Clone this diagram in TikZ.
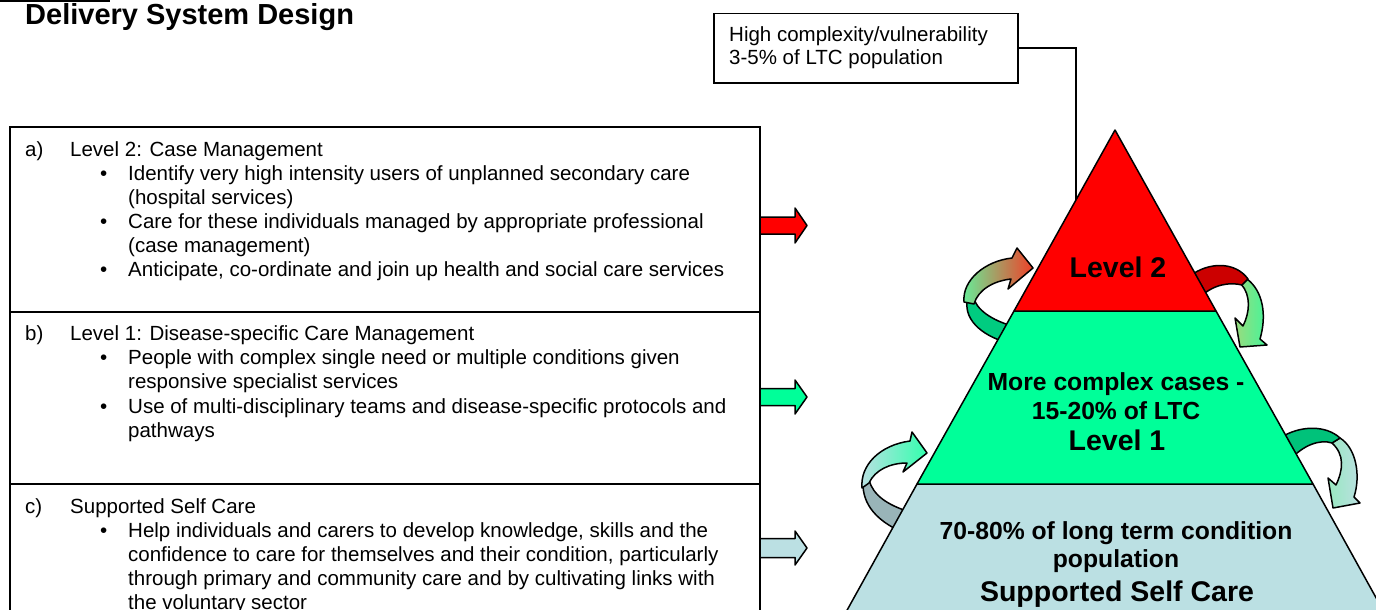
\documentclass[tikz,border=0pt]{standalone}
\usepackage{fontspec}
\setmainfont{Liberation Sans}
\definecolor{lvred}{HTML}{FF0000}
\definecolor{lvgreen}{HTML}{00FF99}
\definecolor{lvblue}{HTML}{BBE0E3}
\definecolor{darkgreen}{HTML}{00CC80}
\definecolor{darkred}{HTML}{CC0000}
\definecolor{greyblue}{HTML}{99B4B8}
\definecolor{lightgreen}{HTML}{66EE99}
\definecolor{orangered}{HTML}{F04028}
\definecolor{olivegreen}{HTML}{9ADB7E}
\definecolor{brightgreen}{HTML}{44F59A}
\definecolor{palegreen}{HTML}{99E8C0}
\tikzset{
  txt/.style={anchor=base west, inner sep=0pt, font=\fontsize{20.5}{24}\selectfont},
  ptxt/.style={anchor=base, inner sep=0pt, font=\bfseries\fontsize{24.7}{28}\selectfont},
  pbig/.style={anchor=base, inner sep=0pt, font=\bfseries\fontsize{28.5}{32}\selectfont},
  outl/.style={draw=black, line width=1.5pt, line join=round},
  boxline/.style={draw=black, line width=2pt},
}
\begin{document}
\begin{tikzpicture}[x=1pt,y=-1pt]
\useasboundingbox (0,0) rectangle (1376,610);
\fill[white] (0,0) rectangle (1376,610);
% cut-off rule at top left
\draw[line width=2.5pt] (0,1) -- (110,1);
% title
\node[anchor=base west, inner sep=0pt, font=\bfseries\fontsize{29}{32}\selectfont] (title) at (25,25) {Delivery System Design};

% ---- curved arrows (drawn beneath the pyramid)
% arrow 1 (left of Level 2)
\filldraw[fill=darkgreen, outl] (968,297) .. controls (962,318) and (980,335) .. (1008,343) -- (1012,326) .. controls (992,320) and (976,310) .. (973,296) -- cycle;
\shadedraw[left color=lightgreen, right color=orangered, outl] (964,302) .. controls (962,280) and (985,261) .. (1012,258) -- (1017,248) -- (1033,268) -- (1008,289) -- (1011,279) .. controls (993,281) and (978,290) .. (974,304) -- cycle;
% arrow 2 (right of Level 2)
\shadedraw[left color=olivegreen, right color=brightgreen, outl] (1247,279) .. controls (1263,291) and (1267,315) .. (1260,339) -- (1267,345) -- (1240,347) -- (1235,318) -- (1243,326) .. controls (1250,312) and (1251,295) .. (1241,284) -- cycle;
\filldraw[fill=darkred, outl] (1190,276) .. controls (1208,262) and (1235,261) .. (1248,279) -- (1242,285) .. controls (1230,282) and (1214,284) .. (1200,297) -- cycle;
% arrow 3 (left of Level 1)
\filldraw[fill=greyblue, outl] (863,482) .. controls (862,505) and (878,521) .. (900,531) -- (910,512) .. controls (887,505) and (873,495) .. (869,480) -- cycle;
\shadedraw[left color=lvblue, right color=lvgreen!80!white, outl] (862,488) .. controls (860,465) and (880,445) .. (910,441) -- (912,432) -- (927,453) -- (903,472) -- (907,463) .. controls (890,463) and (875,470) .. (869,483) -- cycle;
% arrow 4 (right of Level 1)
\shadedraw[left color=palegreen, right color=lvblue, outl] (1340,438) .. controls (1356,448) and (1361,475) .. (1354,497) -- (1360,503) -- (1333,508) -- (1328,478) -- (1336,485) .. controls (1343,470) and (1345,455) .. (1332,443) -- cycle;
\filldraw[fill=darkgreen!95!black, outl] (1280,438) .. controls (1300,425) and (1326,425) .. (1340,438) -- (1332,443) .. controls (1320,439) and (1303,445) .. (1290,460) -- cycle;

% ---- pyramid
\filldraw[fill=lvblue, outl] (917,484) -- (845.5,613) -- (1384.5,613) -- (1313,484) -- cycle;
\filldraw[fill=lvgreen, outl] (1014,311) -- (917,484) -- (1313,484) -- (1216,311) -- cycle;
\filldraw[fill=lvred, outl] (1115,130) -- (1014,311) -- (1216,311) -- cycle;
\coordinate (apexedge) at (1076,200);

\node[pbig] (lv2) at (1118,277) {Level 2};
\node[ptxt] (mc1) at (1116,390) {More complex cases -};
\node[ptxt] (mc2) at (1116,419) {15-20\% of LTC};
\node[pbig] (lv1) at (1117,450) {Level 1};
\node[ptxt] (sc1) at (1116,539) {70-80\% of long term condition};
\node[ptxt] (sc2) at (1116,567) {population};
\node[pbig] (sc3) at (1117,601) {Supported Self Care};

% ---- top box
\node[draw=black, line width=1.5pt, minimum width=304pt, minimum height=69pt, anchor=north west, inner sep=0pt] (hbox) at (713,13) {};
\node[txt] (h1) at (729,42) {High complexity/vulnerability};
\node[txt] (h2) at (729,65) {3-5\% of LTC population};
\draw[line width=1.5pt] (hbox.east) -| (apexedge);

% ---- straight block arrows
\filldraw[fill=lvred, outl] (760,217) -- (795,217) -- (795,208) -- (807,225.5) -- (795,243) -- (795,234) -- (760,234) -- cycle;
\filldraw[fill=lvgreen, outl] (760,388.5) -- (795,388.5) -- (795,380) -- (807,397) -- (795,414) -- (795,405.5) -- (760,405.5) -- cycle;
\filldraw[fill=lvblue, outl] (760,538.5) -- (795,538.5) -- (795,531) -- (807,548) -- (795,565) -- (795,557.5) -- (760,557.5) -- cycle;

% ---- left box
\draw[boxline] (10,127) rectangle (760,650);
\draw[boxline] (10,312) -- (760,312);
\draw[boxline] (10,484) -- (760,484);

% a)
\node[txt] (alab) at (25,156) {a)};
\node[txt] (ahead) at (70,156) {Level 2: Case Management};
\node[txt] (ab1) at (100,180) {•};
\node[txt] (at1) at (128,180) {Identify very high intensity users of unplanned secondary care};
\node[txt] (at2) at (128,204) {(hospital services)};
\node[txt] (ab2) at (100,228) {•};
\node[txt] (at3) at (128,228) {Care for these individuals managed by appropriate professional};
\node[txt] (at4) at (128,252) {(case management)};
\node[txt] (ab3) at (100,276.5) {•};
\node[txt] (at5) at (128,276.5) {Anticipate, co-ordinate and join up health and social care services};

% b)
\node[txt] (blab) at (25,340) {b)};
\node[txt] (bhead) at (70,340) {Level 1: Disease-specific Care Management};
\node[txt] (bb1) at (100,364) {•};
\node[txt] (bt1) at (128,364) {People with complex single need or multiple conditions given};
\node[txt] (bt2) at (128,388) {responsive specialist services};
\node[txt] (bb2) at (100,413) {•};
\node[txt] (bt3) at (128,413) {Use of multi-disciplinary teams and disease-specific protocols and};
\node[txt] (bt4) at (128,437) {pathways};

% c)
\node[txt] (clab) at (25,513) {c)};
\node[txt] (chead) at (70,513) {Supported Self Care};
\node[txt] (cb1) at (100,537) {•};
\node[txt] (ct1) at (128,537) {Help individuals and carers to develop knowledge, skills and the};
\node[txt] (ct2) at (128,561) {confidence to care for themselves and their condition, particularly};
\node[txt] (ct3) at (128,585) {through primary and community care and by cultivating links with};
\node[txt] (ct4) at (128,609) {the voluntary sector};
\end{tikzpicture}
\end{document}
